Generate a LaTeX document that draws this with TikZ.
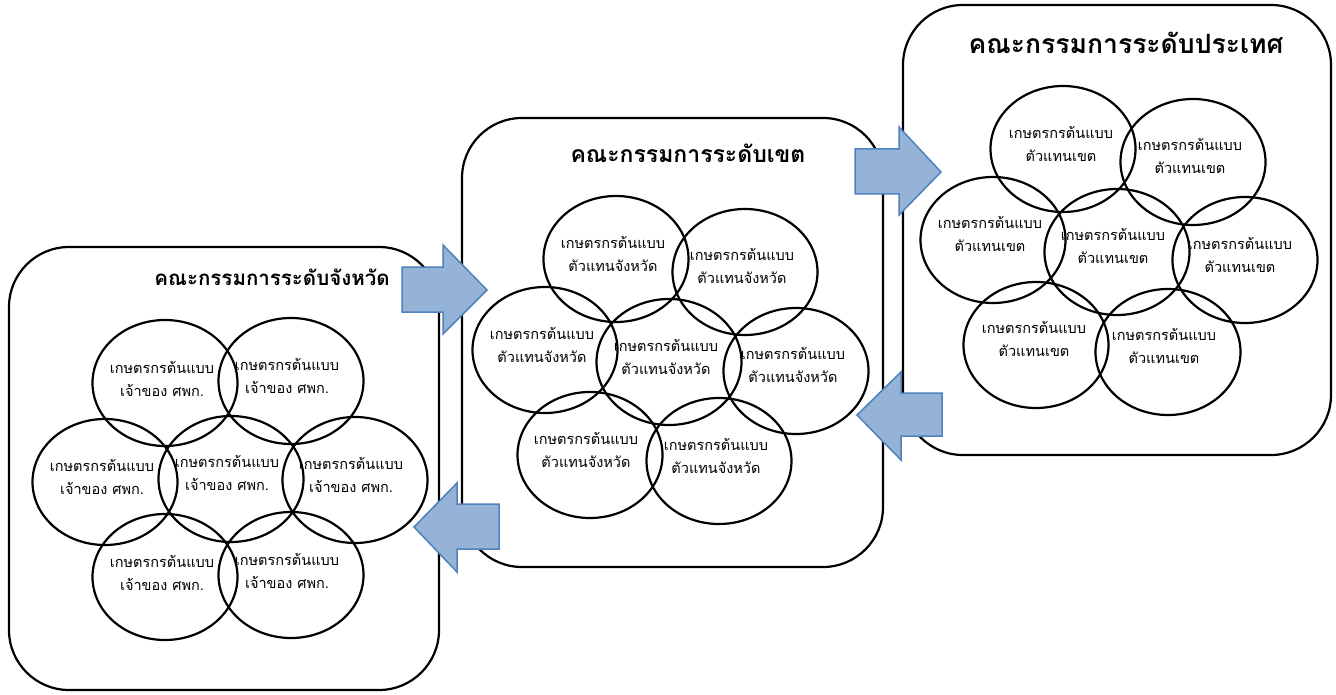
\documentclass[tikz,border=0pt]{standalone}
\usepackage{fontspec}
\newfontfamily\thaifont[Script=Thai]{Loma}
\usetikzlibrary{shapes.geometric}
\definecolor{arrowfill}{RGB}{149,179,215}
\definecolor{arrowline}{RGB}{79,129,189}
\tikzset{
  panel/.style={draw=black, line width=2.2pt, rounded corners=60pt, fill=white, inner sep=0pt},
  member/.style={ellipse, draw=black, line width=2.2pt, minimum width=145pt, minimum height=126pt, inner sep=0pt},
  membertext/.style={font=\thaifont\fontsize{14.5}{23}\selectfont, align=center, inner sep=0pt},
  paneltitle/.style={font=\thaifont\bfseries\fontsize{#1}{#1}\selectfont, inner sep=0pt},
  blockarrow/.style={fill=arrowfill, draw=arrowline, line width=1.5pt, line join=miter},
}
\begin{document}
\begin{tikzpicture}[x=1pt,y=-1pt]
\useasboundingbox (0,0) rectangle (1336,695);
\fill[white] (0,0) rectangle (1336,695);

% panels
\node[panel, minimum width=430pt, minimum height=443pt] (p1) at (224,468.5) {};
\node[panel, minimum width=421pt, minimum height=449pt] (p2) at (672.5,342.5) {};
\node[panel, minimum width=428pt, minimum height=450pt] (p3) at (1117,230) {};

% titles
\node[paneltitle=20.5] (t1) at (272,277) {คณะกรรมการระดับจังหวัด};
\node[paneltitle=23] (t2) at (688,153) {คณะกรรมการระดับเขต};
\node[paneltitle=26.5] (t3) at (1126,43) {คณะกรรมการระดับประเทศ};

% panel 1 members
\node[member] (a1) at (165,383) {};
\node[member] (a2) at (291,381) {};
\node[member] (a3) at (105,482) {};
\node[member] (a4) at (231,479) {};
\node[member] (a5) at (355,480) {};
\node[member] (a6) at (165,577) {};
\node[member] (a7) at (291,575) {};
\node[membertext] (a1t) at (162,378.5) {เกษตรกรต้นแบบ\\เจ้าของ ศพก.};
\node[membertext] (a2t) at (287,375.5) {เกษตรกรต้นแบบ\\เจ้าของ ศพก.};
\node[membertext] (a3t) at (102,477) {เกษตรกรต้นแบบ\\เจ้าของ ศพก.};
\node[membertext] (a4t) at (227,473) {เกษตรกรต้นแบบ\\เจ้าของ ศพก.};
\node[membertext] (a5t) at (351,475) {เกษตรกรต้นแบบ\\เจ้าของ ศพก.};
\node[membertext] (a6t) at (162,572.5) {เกษตรกรต้นแบบ\\เจ้าของ ศพก.};
\node[membertext] (a7t) at (287,570.5) {เกษตรกรต้นแบบ\\เจ้าของ ศพก.};

% panel 2 members
\node[member] (b1) at (616,259) {};
\node[member] (b2) at (745,272) {};
\node[member] (b3) at (545,350) {};
\node[member] (b4) at (669,362) {};
\node[member] (b5) at (796,371) {};
\node[member] (b6) at (590,455) {};
\node[member] (b7) at (719,461) {};
\node[membertext] (b1t) at (613,253.5) {เกษตรกรต้นแบบ\\ตัวแทนจังหวัด};
\node[membertext] (b2t) at (742,265.5) {เกษตรกรต้นแบบ\\ตัวแทนจังหวัด};
\node[membertext] (b3t) at (542,345) {เกษตรกรต้นแบบ\\ตัวแทนจังหวัด};
\node[membertext] (b4t) at (666,356.5) {เกษตรกรต้นแบบ\\ตัวแทนจังหวัด};
\node[membertext] (b5t) at (793,365) {เกษตรกรต้นแบบ\\ตัวแทนจังหวัด};
\node[membertext] (b6t) at (586,450) {เกษตรกรต้นแบบ\\ตัวแทนจังหวัด};
\node[membertext] (b7t) at (716,456) {เกษตรกรต้นแบบ\\ตัวแทนจังหวัด};

% panel 3 members
\node[member] (c1) at (1063,149) {};
\node[member] (c2) at (1193,162) {};
\node[member] (c3) at (993,240) {};
\node[member] (c4) at (1117,252) {};
\node[member] (c5) at (1245,260) {};
\node[member] (c6) at (1036,345) {};
\node[member] (c7) at (1168,352) {};
\node[membertext] (c1t) at (1061,144) {เกษตรกรต้นแบบ\\ตัวแทนเขต};
\node[membertext] (c2t) at (1190,155.5) {เกษตรกรต้นแบบ\\ตัวแทนเขต};
\node[membertext] (c3t) at (990,234) {เกษตรกรต้นแบบ\\ตัวแทนเขต};
\node[membertext] (c4t) at (1113,245.5) {เกษตรกรต้นแบบ\\ตัวแทนเขต};
\node[membertext] (c5t) at (1240,255) {เกษตรกรต้นแบบ\\ตัวแทนเขต};
\node[membertext] (c6t) at (1034,339) {เกษตรกรต้นแบบ\\ตัวแทนเขต};
\node[membertext] (c7t) at (1164,346) {เกษตรกรต้นแบบ\\ตัวแทนเขต};

% block arrows
\draw[blockarrow] (402,267) -- (443,267) -- (443,245) -- (487,290) -- (443,334) -- (443,312) -- (402,312) -- cycle;
\draw[blockarrow] (499,504) -- (457,504) -- (457,483) -- (414,527) -- (457,572) -- (457,549) -- (499,549) -- cycle;
\draw[blockarrow] (855,149) -- (899,149) -- (899,127) -- (941,172) -- (899,215) -- (899,194) -- (855,194) -- cycle;
\draw[blockarrow] (942,393) -- (901,393) -- (901,372) -- (857,415) -- (901,460) -- (901,436) -- (942,436) -- cycle;
\end{tikzpicture}
\end{document}
